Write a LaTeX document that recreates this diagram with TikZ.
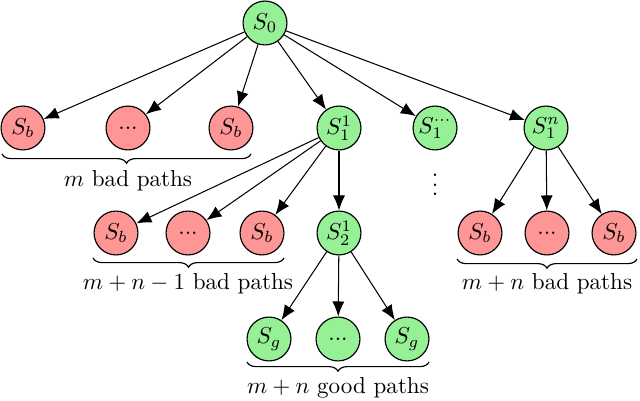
\documentclass[tikz,border=0pt]{standalone}
\usetikzlibrary{arrows.meta,decorations.pathreplacing}
\definecolor{goodc}{RGB}{150,240,150}
\definecolor{badc}{RGB}{255,150,150}
\tikzset{
  st/.style={circle,draw,line width=0.5pt,minimum size=19pt,inner sep=0pt},
  good/.style={st,fill=goodc},
  bad/.style={st,fill=badc},
  arr/.style={-{Latex[length=6.5pt,width=5.2pt]},line width=0.45pt},
  brc/.style={decorate,decoration={brace,mirror,amplitude=4pt},line width=0.5pt},
  lbl/.style={inner sep=0pt}
}
\begin{document}
\begin{tikzpicture}[x=0.433pt,y=-0.433pt]
\useasboundingbox (0,0) rectangle (640,401);
\node[good] (s0) at (265,23) {$S_0$};
\node[bad] (b1) at (23,128) {$S_b$};
\node[bad] (b2) at (128,128) {...};
\node[bad] (b3) at (231,128) {$S_b$};
\node[good] (s11) at (339,128) {$S_1^1$};
\node[good] (s1d) at (435,128) {$S_1^{\cdots}$};
\node[good] (s1n) at (546,128) {$S_1^n$};
\node[lbl] (vd) at (435,178) {$\vdots$};
\node[bad] (c1) at (116,233) {$S_b$};
\node[bad] (c2) at (188,233) {...};
\node[bad] (c3) at (262,233) {$S_b$};
\node[good] (s21) at (339,233) {$S_2^1$};
\node[bad] (d1) at (480,233) {$S_b$};
\node[bad] (d2) at (547,233) {...};
\node[bad] (d3) at (614,233) {$S_b$};
\node[good] (g1) at (269,339) {$S_g$};
\node[good] (g2) at (338,339) {...};
\node[good] (g3) at (407,339) {$S_g$};
\foreach \t in {b1,b2,b3,s11,s1d,s1n} \draw[arr] (s0) -- (\t);
\foreach \t in {c1,c2,c3,s21} \draw[arr] (s11) -- (\t);
\foreach \t in {d1,d2,d3} \draw[arr] (s1n) -- (\t);
\foreach \t in {g1,g2,g3} \draw[arr] (s21) -- (\t);
\coordinate (ba) at (2,154); \coordinate (bb) at (251,154);
\coordinate (ca) at (93,258); \coordinate (cb) at (284,258);
\coordinate (da) at (457,259); \coordinate (db) at (637,259);
\coordinate (ga) at (247,362); \coordinate (gb) at (429,362);
\draw[brc] (ba) -- (bb);
\draw[brc] (ca) -- (cb);
\draw[brc] (da) -- (db);
\draw[brc] (ga) -- (gb);
\node[lbl] (l1) at (128,181) {$m$ bad paths};
\node[lbl] (l2) at (188,284) {$m+n-1$ bad paths};
\node[lbl] (l3) at (547,284) {$m+n$ bad paths};
\node[lbl] (l4) at (338,388) {$m+n$ good paths};
\end{tikzpicture}
\end{document}
